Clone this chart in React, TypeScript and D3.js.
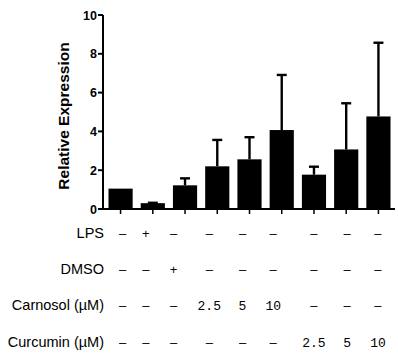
import React from "react";
import * as d3 from "d3";

const categories = ["Ctrl", "LPS", "DMSO", "Car2.5", "Car5", "Car10", "Cur2.5", "Cur5", "Cur10"];
const means = [1.05, 0.3, 1.22, 2.2, 2.56, 4.07, 1.77, 3.07, 4.77];
const errors = [0, 0.02, 0.36, 1.36, 1.14, 2.84, 0.41, 2.38, 3.8];
const yTicks = [0, 2, 4, 6, 8, 10];
const rowLabels = ["LPS", "DMSO", "Carnosol (\u00b5M)", "Curcumin (\u00b5M)"];
const lpsRow = ["\u2013", "+", "\u2013", "\u2013", "\u2013", "\u2013", "\u2013", "\u2013", "\u2013"];
const dmsoRow = ["\u2013", "\u2013", "+", "\u2013", "\u2013", "\u2013", "\u2013", "\u2013", "\u2013"];
const carnosolRow = ["\u2013", "\u2013", "\u2013", "2.5", "5", "10", "\u2013", "\u2013", "\u2013"];
const curcuminRow = ["\u2013", "\u2013", "\u2013", "\u2013", "\u2013", "\u2013", "2.5", "5", "10"];
const tableRows = [lpsRow, dmsoRow, carnosolRow, curcuminRow];

// layout
const W = 398, H = 356;
const x0 = 103, x1 = 396, yBottom = 209, yTop = 15;
const colOffsets = [2, -7, -11.5, -8, -7, -8.5, 0, 1, -0.5];
const rowY = [233, 269, 305, 342];

export default function App() {
  const x = d3.scaleBand<string>().domain(categories).range([x0, x1]).paddingInner(0.25).paddingOuter(0.17);
  const y = d3.scaleLinear().domain([0, 10]).range([yBottom, yTop]);
  const bw = x.bandwidth();
  const capW = 10;
  return (
    <svg width={W} height={H} style={{ position: "absolute", left: 0, top: 0 }} fontFamily="'Liberation Sans', Arial, sans-serif">
      {categories.map((c, i) => {
        const cx = (x(c) as number) + bw / 2;
        const top = y(means[i] + errors[i]);
        return (
          <g key={c}>
            {errors[i] > 0 && (
              <g stroke="#000" strokeWidth={2.4}>
                <line x1={cx} x2={cx} y1={y(means[i])} y2={top} />
                <line x1={cx - capW / 2} x2={cx + capW / 2} y1={top} y2={top} />
              </g>
            )}
            <rect x={x(c)} y={y(means[i])} width={bw} height={yBottom - y(means[i])} fill="#000" />
            <line x1={cx} x2={cx} y1={yBottom} y2={yBottom + 5} stroke="#000" strokeWidth={1.5} />
          </g>
        );
      })}
      <line x1={x0} x2={x0} y1={yTop} y2={yBottom + 1} stroke="#000" strokeWidth={2} />
      <line x1={x0 - 1} x2={395} y1={yBottom} y2={yBottom} stroke="#000" strokeWidth={2} />
      {yTicks.map((t) => (
        <g key={t}>
          <line x1={x0 - 5} x2={x0} y1={y(t)} y2={y(t)} stroke="#000" strokeWidth={2} />
          <text x={x0 - 6} y={y(t)} dy="0.36em" textAnchor="end" fontSize={12.5} fontWeight="bold">{t}</text>
        </g>
      ))}
      <text transform={`translate(69,${(yTop + yBottom) / 2 + 4}) rotate(-90)`} textAnchor="middle" fontSize={15.5} fontWeight="bold">
        Relative Expression
      </text>
      {rowLabels.map((lab, r) => (
        <text key={lab} x={104} y={rowY[r]} dy="0.36em" textAnchor="end" fontSize={14.5}>{lab}</text>
      ))}
      {tableRows.map((row, r) =>
        row.map((v, i) => {
          const cx = (x(categories[i]) as number) + bw / 2 + colOffsets[i];
          const isNum = /\d/.test(v);
          return (
            <text key={`${r}-${i}`} x={cx} y={rowY[r]} dy="0.36em" textAnchor="middle"
              fontSize={13}
              fontFamily={isNum ? "'Liberation Mono', 'Courier New', monospace" : "'Liberation Sans', Arial, sans-serif"}>
              {v}
            </text>
          );
        })
      )}
    </svg>
  );
}
